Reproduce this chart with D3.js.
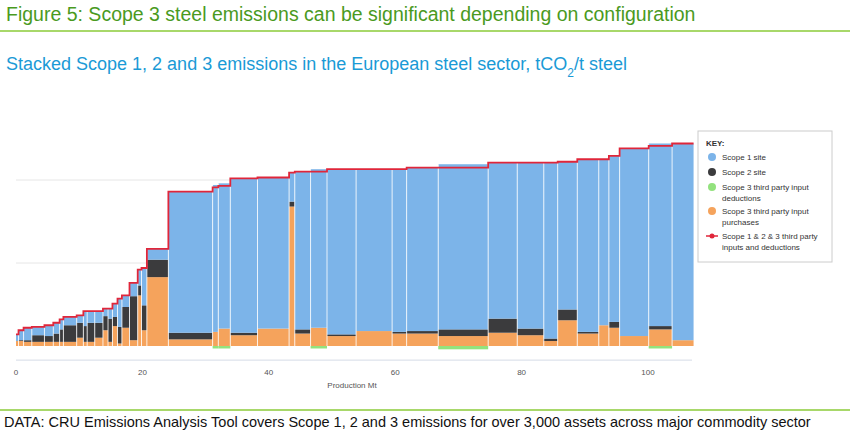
<!DOCTYPE html>
<html><head><meta charset="utf-8">
<script src="https://cdn.jsdelivr.net/npm/d3@7"></script>
<style>body{margin:0;background:#fff;font-family:Arial,"Liberation Sans",sans-serif}</style>
</head><body><svg id="c" width="850" height="433"></svg>
<script>
// production width of each asset group, Mt
const production = [.4,.8,1.3,2.0,1.4,1.0,.6,2.1,1.06,.6,1.2,1.3,.8,.7,.8,.7,1.2,1.3,.6,.85,3.4,
  7.0,.9,1.9,4.3,5.0,.9,2.5,2.6,4.6,5.7,2.3,5.0,7.9,4.6,4.2,2.2,3.1,3.4,1.6,1.7,4.6,3.7,3.4];
// tCO2/t steel
const scope1 = [.08,.12,.15,.10,.13,.13,.12,.10,.09,.18,.14,.14,.09,.12,.16,.34,.14,.16,.19,.45,.13,
  1.70,1.77,1.75,1.86,1.82,.35,1.90,1.91,1.99,1.95,1.96,1.97,1.99,1.88,2.00,2.12,1.78,2.08,2.00,2.00,2.26,2.20,2.37];
const scope2 = [0,.01,.02,.08,.07,.10,.15,.20,.18,.19,.23,.18,.17,.28,.11,.20,.25,.53,.12,.30,.21,
  .08,0,0,.03,0,.06,.05,0,.02,0,.02,.03,.08,.17,.08,.03,.13,.02,0,.07,0,.04,0];
const scope3Purchases = [.06,.06,.05,.05,.05,.05,.05,.05,.10,.05,.05,.10,.19,.05,.24,.03,.22,.07,.61,.19,.83,
  .08,.17,.21,.13,.21,1.68,.15,.22,.12,.18,.15,.15,.12,.16,.13,.06,.31,.15,.25,.22,.12,.20,.07];
const scope3Deductions = [0,0,0,0,0,0,0,0,0,0,0,0,0,0,0,0,0,0,0,0,0,
  0,.03,.03,0,0,0,0,.03,0,0,0,0,.04,0,0,0,0,0,0,0,0,.03,0];
const xTicks = [0,20,40,60,80,100];
const keyItems = [["Scope 1 site"],["Scope 2 site"],["Scope 3 third party input","deductions"],
  ["Scope 3 third party input","purchases"],["Scope 1 & 2 & 3 third party","inputs and deductions"]];
const colors = {s1:"#7cb4e9", s2:"#3b3b3d", ded:"#93e27e", pur:"#f5a35c", line:"#e0263a"};

const svg = d3.select("#c");
svg.append("text").attr("x",6).attr("y",21).attr("font-size",19.5).attr("fill","#4a9a1e")
  .text("Figure 5: Scope 3 steel emissions can be significant depending on configuration");
svg.append("rect").attr("x",0).attr("y",30).attr("width",850).attr("height",2).attr("fill","#a8d86a");
svg.append("text").attr("x",6).attr("y",70).attr("font-size",18).attr("fill","#1a9ad6")
  .html("Stacked Scope 1, 2 and 3 emissions in the European steel sector, tCO<tspan baseline-shift='sub' font-size='12'>2</tspan>/t steel");
svg.append("rect").attr("x",0).attr("y",409).attr("width",850).attr("height",2).attr("fill","#a8d86a");
svg.append("text").attr("x",4).attr("y",427).attr("font-size",14.5).attr("fill","#111")
  .text("DATA: CRU Emissions Analysis Tool covers Scope 1, 2 and 3 emissions for over 3,000 assets across major commodity sector");

const x = d3.scaleLinear().domain([0,100]).range([16,648]);
const y = d3.scaleLinear().domain([0,2]).range([346,180]);

const g = svg.append("g");
[1,2].forEach(v => g.append("line").attr("x1",16).attr("x2",692).attr("y1",y(v)).attr("y2",y(v))
  .attr("stroke","#e6e6e6"));
g.append("line").attr("x1",16).attr("x2",692).attr("y1",y(-0.17)).attr("y2",y(-0.17)).attr("stroke","#d5dbe6");

let cum = 0;
const bars = production.map((w,i) => {
  const b = {x0:cum, x1:cum+w, s1:scope1[i], s2:scope2[i], pur:scope3Purchases[i], ded:scope3Deductions[i]};
  cum += w; return b;
});
bars.forEach(b => {
  const segs = [["pur",0,b.pur],["s2",b.pur,b.pur+b.s2],["s1",b.pur+b.s2,b.pur+b.s2+b.s1]];
  segs.forEach(([k,a,c]) => { if (c>a) g.append("rect").attr("x",x(b.x0)).attr("width",x(b.x1)-x(b.x0))
    .attr("y",y(c)).attr("height",y(a)-y(c)).attr("fill",colors[k]); });
  if (b.ded>0) g.append("rect").attr("x",x(b.x0)).attr("width",x(b.x1)-x(b.x0))
    .attr("y",y(0)).attr("height",y(-b.ded)-y(0)).attr("fill",colors.ded);
});
bars.slice(1).forEach(b => g.append("line").attr("x1",x(b.x0)).attr("x2",x(b.x0))
  .attr("y1",y(0)).attr("y2",y(b.s1+b.s2+b.pur)).attr("stroke","#fff").attr("stroke-opacity",0.8).attr("stroke-width",1));

const pts = bars.flatMap(b => { const t = b.s1+b.s2+b.pur-b.ded; return [[b.x0,t],[b.x1,t]]; });
g.append("path").attr("d", d3.line().x(d=>x(d[0])).y(d=>y(d[1]))(pts))
  .attr("fill","none").attr("stroke",colors.line).attr("stroke-width",1.8);

g.selectAll(".tk").data(xTicks).join("text").attr("x",d=>x(d)).attr("y",375)
  .attr("text-anchor","middle").attr("font-size",8).attr("fill","#555").text(d=>d);
g.append("text").attr("x",352).attr("y",388).attr("text-anchor","middle").attr("font-size",8)
  .attr("fill","#555").text("Production Mt");

const k = svg.append("g").attr("transform","translate(698,131)");
k.append("rect").attr("width",134).attr("height",131).attr("fill","#fff").attr("stroke","#ccc");
k.append("text").attr("x",8).attr("y",15).attr("font-size",8).attr("font-weight","bold").attr("fill","#333").text("KEY:");
const kc = [colors.s1,colors.s2,colors.ded,colors.pur,colors.line];
const ky = [29,44,59,83,108];
keyItems.forEach((lines,i) => {
  if (i<4) k.append("circle").attr("cx",14).attr("cy",ky[i]-3).attr("r",4).attr("fill",kc[i]);
  else { k.append("line").attr("x1",8).attr("x2",20).attr("y1",ky[i]-3).attr("y2",ky[i]-3).attr("stroke",kc[i]).attr("stroke-width",1.5);
    k.append("circle").attr("cx",14).attr("cy",ky[i]-3).attr("r",2.5).attr("fill",kc[i]); }
  lines.forEach((t,j) => k.append("text").attr("x",24).attr("y",ky[i]+j*11).attr("font-size",8).attr("fill","#333").text(t));
});
</script></body></html>
